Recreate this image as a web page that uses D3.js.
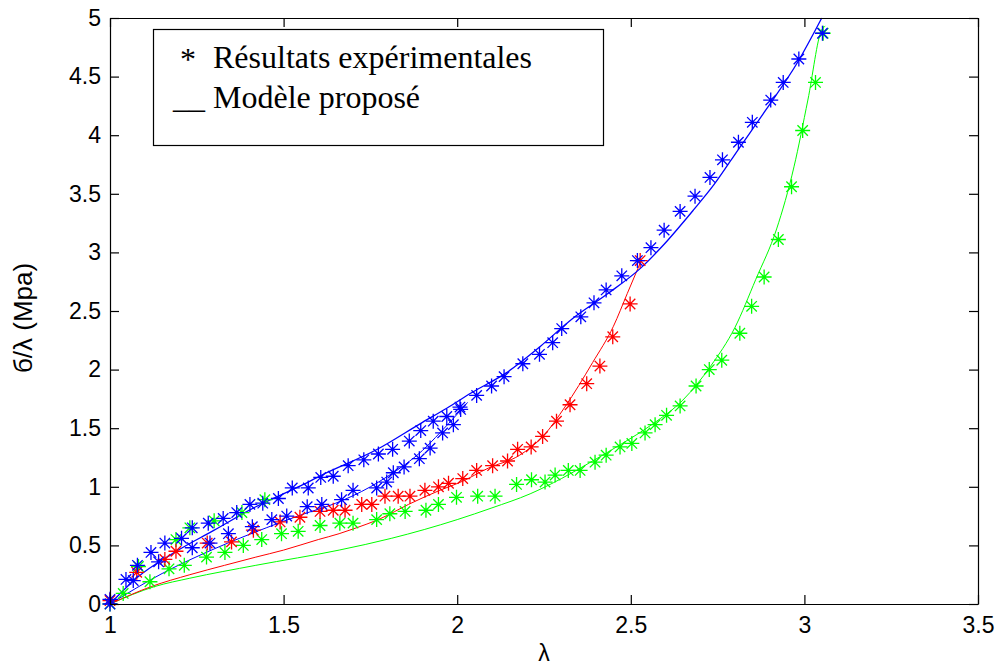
<!DOCTYPE html>
<html>
<head>
<meta charset="utf-8">
<script src="https://cdn.jsdelivr.net/npm/d3@7"></script>
<style>
  body { margin: 0; background: #fff; }
  svg { display: block; }
  .axis text { font-family: Arial, 'Liberation Sans', sans-serif; font-size: 23px; fill: #000; }
  .axis path, .axis line { stroke: #000; stroke-width: 1.2; }
  .legend text { font-family: 'Times New Roman', 'Liberation Serif', serif; font-size: 32px; }
</style>
</head>
<body>
<div id="chart"></div>
<script>
;(function() {
  'use strict';

  // --- data: [lambda, sigma/lambda] ---
  var blueUpperStars = [
    [1.0, 0.04], [1.046, 0.21], [1.079, 0.33], [1.118, 0.44], [1.158, 0.52], [1.206, 0.56],
    [1.237, 0.65], [1.283, 0.69], [1.326, 0.73], [1.365, 0.78], [1.403, 0.85], [1.44, 0.86],
    [1.485, 0.90], [1.525, 0.99], [1.571, 0.99], [1.607, 1.08], [1.643, 1.09], [1.686, 1.18],
    [1.731, 1.23], [1.773, 1.28], [1.814, 1.32], [1.862, 1.39], [1.895, 1.48], [1.931, 1.56],
    [1.97, 1.60], [2.008, 1.68], [2.056, 1.78], [2.099, 1.86], [2.135, 1.94], [2.189, 2.05],
    [2.237, 2.13], [2.275, 2.23], [2.301, 2.35], [2.356, 2.45], [2.394, 2.57], [2.429, 2.68],
    [2.474, 2.80], [2.519, 2.93], [2.558, 3.04], [2.596, 3.19], [2.642, 3.35], [2.685, 3.48],
    [2.728, 3.64], [2.764, 3.79], [2.81, 3.94], [2.85, 4.11], [2.903, 4.30], [2.939, 4.45],
    [2.984, 4.65], [3.052, 4.87]
  ];
  var blueLowerStars = [
    [1.0, 0.0], [1.067, 0.20], [1.14, 0.36], [1.237, 0.48], [1.288, 0.52], [1.341, 0.60],
    [1.41, 0.66], [1.466, 0.72], [1.509, 0.75], [1.568, 0.83], [1.61, 0.85], [1.667, 0.89],
    [1.70, 0.97], [1.768, 0.99], [1.797, 1.04], [1.816, 1.12], [1.847, 1.17], [1.891, 1.24],
    [1.922, 1.33], [1.958, 1.46], [1.989, 1.53], [2.01, 1.66]
  ];
  var redStars = [
    [1.0, 0.03], [1.077, 0.27], [1.158, 0.38], [1.19, 0.45], [1.28, 0.52], [1.35, 0.53],
    [1.413, 0.63], [1.49, 0.70], [1.547, 0.74], [1.605, 0.79], [1.643, 0.80], [1.677, 0.80],
    [1.725, 0.85], [1.754, 0.85], [1.792, 0.92], [1.83, 0.92], [1.864, 0.92], [1.907, 0.97],
    [1.946, 1.00], [1.975, 1.03], [2.016, 1.07], [2.056, 1.14], [2.102, 1.18], [2.145, 1.22],
    [2.174, 1.32], [2.213, 1.34], [2.246, 1.43], [2.286, 1.56], [2.325, 1.70], [2.373, 1.88],
    [2.411, 2.03], [2.448, 2.28], [2.498, 2.56], [2.527, 2.93]
  ];
  var greenUpperStars = [
    [1.082, 0.32], [1.19, 0.55], [1.23, 0.65], [1.30, 0.71], [1.38, 0.78], [1.446, 0.89]
  ];
  var greenLowerStars = [
    [1.0, 0.0], [1.038, 0.09], [1.115, 0.19], [1.17, 0.30], [1.214, 0.33], [1.278, 0.40],
    [1.331, 0.44], [1.384, 0.50], [1.437, 0.55], [1.494, 0.60], [1.542, 0.62], [1.605, 0.67],
    [1.662, 0.69], [1.70, 0.69], [1.768, 0.72], [1.806, 0.77], [1.85, 0.79], [1.91, 0.80],
    [1.946, 0.85], [1.998, 0.91], [2.059, 0.92], [2.109, 0.92], [2.171, 1.02], [2.214, 1.06],
    [2.253, 1.04], [2.282, 1.10], [2.32, 1.14], [2.354, 1.14], [2.397, 1.21], [2.429, 1.27],
    [2.469, 1.34], [2.503, 1.37], [2.541, 1.46], [2.57, 1.53], [2.603, 1.61], [2.642, 1.69],
    [2.688, 1.86], [2.726, 2.00], [2.762, 2.08], [2.814, 2.31], [2.848, 2.54], [2.884, 2.79],
    [2.925, 3.11], [2.963, 3.56], [2.995, 4.04], [3.032, 4.45], [3.054, 4.87]
  ];

  var blueUpperModel = [
    [1.0, 0.0], [1.08, 0.23], [1.18, 0.43], [1.30, 0.63], [1.42, 0.83], [1.55, 1.01],
    [1.61, 1.10], [1.77, 1.32], [1.90, 1.55], [1.97, 1.67], [2.04, 1.80], [2.14, 1.97],
    [2.24, 2.20], [2.33, 2.43], [2.43, 2.64], [2.53, 2.87], [2.59, 3.05], [2.68, 3.36],
    [2.74, 3.58], [2.81, 3.88], [2.89, 4.22], [2.98, 4.62], [3.05, 5.0]
  ];
  var blueLowerModel = [
    [1.0, 0.0], [1.15, 0.26], [1.30, 0.47], [1.45, 0.65], [1.55, 0.76], [1.65, 0.86],
    [1.75, 1.00], [1.80, 1.09], [1.85, 1.19], [1.90, 1.31], [1.95, 1.46], [2.0, 1.62], [2.03, 1.72]
  ];
  var redModel = [
    [1.0, 0.0], [1.12, 0.15], [1.23, 0.25], [1.33, 0.33], [1.42, 0.40], [1.5, 0.46],
    [1.6, 0.55], [1.66, 0.60], [1.70, 0.64], [1.78, 0.73], [1.86, 0.85], [1.95, 0.97],
    [2.01, 1.04], [2.09, 1.16], [2.18, 1.27], [2.25, 1.44], [2.31, 1.68], [2.39, 2.06],
    [2.45, 2.37], [2.49, 2.65], [2.53, 2.93]
  ];
  var greenModel = [
    [1.0, 0.0], [1.13, 0.15], [1.23, 0.22], [1.42, 0.33], [1.66, 0.46], [1.81, 0.56],
    [2.0, 0.72], [2.1, 0.82], [2.21, 0.94], [2.30, 1.07], [2.39, 1.22], [2.47, 1.36],
    [2.565, 1.54], [2.65, 1.74], [2.73, 2.03], [2.80, 2.36], [2.86, 2.77], [2.92, 3.20],
    [2.97, 3.73], [3.01, 4.30], [3.05, 4.90], [3.06, 4.93]
  ];

  var xTicks = [1, 1.5, 2, 2.5, 3, 3.5],
      yTicks = [0, 0.5, 1, 1.5, 2, 2.5, 3, 3.5, 4, 4.5, 5],
      legendLabels = ['Résultats expérimentales', 'Modèle proposé'];

  var width = 1000, height = 666,
      margin = {top: 18, right: 22, bottom: 62, left: 110},
      innerW = width - margin.left - margin.right,
      innerH = height - margin.top - margin.bottom;

  var x = d3.scaleLinear().domain([1, 3.5]).range([0, innerW]),
      y = d3.scaleLinear().domain([0, 5]).range([innerH, 0]);

  var svg = d3.select('#chart').append('svg')
      .attr('width', width)
      .attr('height', height);

  var g = svg.append('g')
      .attr('transform', 'translate(' + margin.left + ',' + margin.top + ')');

  var line = d3.line()
      .curve(d3.curveMonotoneX)
      .x(function(d) { return x(d[0]); })
      .y(function(d) { return y(d[1]); });

  // asterisk marker, like matlab '*'
  var r = 7.5, dd = 5.2;
  var star = 'M' + (-r) + ',0H' + r + 'M0,' + (-r) + 'V' + r +
      'M' + (-dd) + ',' + (-dd) + 'L' + dd + ',' + dd +
      'M' + (-dd) + ',' + dd + 'L' + dd + ',' + (-dd);

  var models = [
    {data: greenModel, color: '#00ff00', w: 1},
    {data: redModel, color: '#ff0000', w: 1},
    {data: blueLowerModel, color: '#0000ff', w: 1},
    {data: blueUpperModel, color: '#0000ff', w: 1.3}
  ];
  var starSets = [
    {data: greenLowerStars, color: '#00ff00'},
    {data: greenUpperStars, color: '#00ff00'},
    {data: redStars, color: '#ff0000'},
    {data: blueLowerStars, color: '#0000ff'},
    {data: blueUpperStars, color: '#0000ff'}
  ];

  var plot = g.append('g').attr('class', 'plot');

  plot.selectAll('path.model').data(models).enter()
    .append('path')
      .classed('model', true)
      .attr('d', function(d) { return line(d.data); })
      .attr('fill', 'none')
      .attr('stroke', function(d) { return d.color; })
      .attr('stroke-width', function(d) { return d.w; });

  starSets.forEach(function(s) {
    plot.append('g').selectAll('path').data(s.data).enter()
      .append('path')
        .attr('d', star)
        .attr('transform', function(d) { return 'translate(' + x(d[0]) + ',' + y(d[1]) + ')'; })
        .attr('fill', 'none')
        .attr('stroke', s.color)
        .attr('stroke-width', 1.3);
  });

  // axes, ticks pointing inward on all four sides
  g.append('g')
      .attr('class', 'axis axis-bottom')
      .attr('transform', 'translate(0,' + innerH + ')')
      .call(d3.axisBottom(x).tickValues(xTicks).tickFormat(d3.format('')).tickSizeInner(-9).tickSizeOuter(0).tickPadding(13));
  g.append('g')
      .attr('class', 'axis axis-top')
      .call(d3.axisTop(x).tickValues(xTicks).tickFormat('').tickSizeInner(-9).tickSizeOuter(0));
  g.append('g')
      .attr('class', 'axis axis-left')
      .call(d3.axisLeft(y).tickValues(yTicks).tickFormat(d3.format('')).tickSizeInner(-9).tickSizeOuter(0).tickPadding(9));
  g.append('g')
      .attr('class', 'axis axis-right')
      .attr('transform', 'translate(' + innerW + ',0)')
      .call(d3.axisRight(y).tickValues(yTicks).tickFormat('').tickSizeInner(-9).tickSizeOuter(0));

  // axis titles
  svg.append('text')
      .attr('x', margin.left + innerW / 2)
      .attr('y', 661)
      .attr('text-anchor', 'middle')
      .style('font-family', "Arial, 'Liberation Sans', sans-serif")
      .style('font-size', '23px')
      .text('λ');
  svg.append('text')
      .attr('transform', 'translate(32,318) rotate(-90)')
      .attr('text-anchor', 'middle')
      .style('font-family', "Arial, 'Liberation Sans', sans-serif")
      .style('font-size', '26px')
      .text('б/λ (Mpa)');

  // legend box
  var legend = svg.append('g').attr('class', 'legend');
  legend.append('rect')
      .attr('x', 153.5).attr('y', 29.5)
      .attr('width', 450).attr('height', 116)
      .attr('fill', '#fff')
      .attr('stroke', '#000')
      .attr('stroke-width', 1.2);
  legend.append('text').attr('x', 180).attr('y', 70).text('*');
  legend.append('text').attr('x', 213).attr('y', 68).text(legendLabels[0]);
  legend.append('text').attr('x', 173).attr('y', 108).text('__');
  legend.append('text').attr('x', 213).attr('y', 108).text(legendLabels[1]);
})();
</script>
</body>
</html>
